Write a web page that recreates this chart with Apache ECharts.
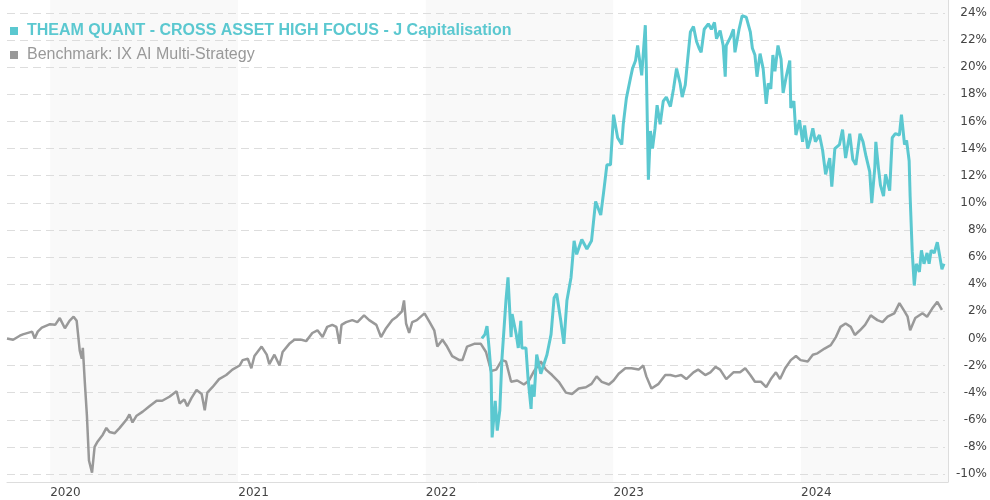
<!DOCTYPE html>
<html>
<head>
<meta charset="utf-8">
<script src="https://cdn.jsdelivr.net/npm/echarts@6/dist/echarts.min.js"></script>
<style>
  html, body { margin: 0; padding: 0; background: #fff; }
  #chart { width: 990px; height: 500px; }
</style>
</head>
<body>
<div id="chart"></div>
<script>
const fundName = "THEAM QUANT - CROSS ASSET HIGH FOCUS - J Capitalisation";
const benchName = "Benchmark: IX AI Multi-Strategy";

const xMin = "2019-10-09";
const xMax = "2024-10-13";

const benchDates = [
  "2019-10-09","2019-10-21","2019-11-03","2019-11-09","2019-11-27","2019-12-02","2019-12-08","2019-12-16",
  "2020-01-01","2020-01-11","2020-01-20","2020-01-30","2020-02-08","2020-02-16","2020-02-22","2020-02-28",
  "2020-03-03","2020-03-05","2020-03-09","2020-03-13","2020-03-17","2020-03-23","2020-03-28","2020-04-03",
  "2020-04-13","2020-04-20","2020-04-26","2020-05-06","2020-05-16","2020-05-29","2020-06-04","2020-06-10",
  "2020-06-18","2020-06-30","2020-07-13","2020-07-27","2020-08-07","2020-08-21","2020-09-04","2020-09-10",
  "2020-09-19","2020-09-25","2020-10-03","2020-10-13","2020-10-23","2020-10-29","2020-11-03","2020-11-13",
  "2020-11-26","2020-12-10","2020-12-22",
  "2021-01-05","2021-01-11","2021-01-21","2021-01-28","2021-02-03","2021-02-17","2021-02-27","2021-03-04",
  "2021-03-14","2021-03-24","2021-03-30","2021-04-12","2021-04-22","2021-05-06","2021-05-15","2021-05-27",
  "2021-06-06","2021-06-16","2021-06-25","2021-07-05","2021-07-13","2021-07-19","2021-07-23","2021-08-01",
  "2021-08-13","2021-08-23","2021-09-05","2021-09-15","2021-09-29","2021-10-08","2021-10-18","2021-10-30",
  "2021-11-08","2021-11-18","2021-11-22","2021-11-26","2021-12-02","2021-12-08","2021-12-17",
  "2022-01-01","2022-01-11","2022-01-20","2022-01-26","2022-02-05","2022-02-14","2022-02-24","2022-03-10",
  "2022-03-16","2022-03-25","2022-04-08","2022-04-21","2022-05-01","2022-05-11","2022-05-21","2022-06-01",
  "2022-06-09","2022-06-19","2022-07-01","2022-07-14","2022-07-24","2022-08-03","2022-08-16","2022-08-26",
  "2022-09-07","2022-09-20","2022-10-04","2022-10-16","2022-10-29","2022-11-12","2022-11-23","2022-12-03",
  "2022-12-13","2022-12-27",
  "2023-01-05","2023-01-15","2023-01-28","2023-02-09","2023-02-23","2023-03-04","2023-03-10","2023-03-20",
  "2023-04-03","2023-04-16","2023-04-26","2023-05-06","2023-05-17","2023-05-27","2023-06-10","2023-06-19",
  "2023-07-03","2023-07-13","2023-07-23","2023-08-01","2023-08-13","2023-08-27","2023-09-09","2023-09-19",
  "2023-09-29","2023-10-08","2023-10-20","2023-10-30","2023-11-08","2023-11-18","2023-11-26","2023-12-06",
  "2023-12-17","2023-12-27",
  "2024-01-05","2024-01-19","2024-01-29","2024-02-07","2024-02-21","2024-03-04","2024-03-14","2024-03-23",
  "2024-04-02","2024-04-12","2024-04-20","2024-04-30","2024-05-10","2024-05-21","2024-06-03","2024-06-13",
  "2024-06-23","2024-07-06","2024-07-16","2024-07-26","2024-08-01","2024-08-06","2024-08-16","2024-08-30",
  "2024-09-08","2024-09-18","2024-09-28","2024-10-07"
];
const benchValues = [
  0.0, -0.1, 0.2, 0.3, 0.5, 0.0, 0.5, 0.8,
  1.05, 1.0, 1.5, 0.75, 1.3, 1.6, 1.3, -0.9,
  -1.5, -0.7, -3.3, -5.7, -9.0, -9.9, -8.0, -7.6,
  -7.1, -6.6, -6.9, -7.0, -6.6, -6.0, -5.6, -6.2,
  -5.7, -5.4, -5.0, -4.6, -4.6, -4.3, -3.9, -4.8,
  -4.5, -5.0, -4.4, -3.8, -4.1, -5.3, -4.0, -3.6,
  -3.0, -2.7, -2.3,
  -2.0, -1.6, -1.5, -2.2, -1.3, -0.6, -1.2, -1.9,
  -1.2, -2.0, -1.0, -0.4, -0.1, -0.1, -0.2, 0.4,
  0.6, 0.1, 0.85, 1.0, 0.85, -0.4, 1.0, 1.2,
  1.35, 1.2, 1.7, 1.35, 1.0, 0.1, 0.75, 1.35,
  1.6, 2.0, 2.8, 1.1, 0.4, 1.2, 1.35,
  1.85, 1.2, 0.6, -0.6, -0.1, -0.6, -1.3, -1.6,
  -1.6, -0.6, -0.4, -0.4, -1.0, -2.4, -2.3, -1.6,
  -1.7, -3.2, -3.1, -3.4, -3.1, -2.4, -1.7, -2.3,
  -2.7, -3.2, -4.0, -4.1, -3.7, -3.6, -3.35, -2.8,
  -3.2, -3.4,
  -3.1, -2.6, -2.2, -2.2, -2.3, -2.0, -2.8, -3.7,
  -3.35, -2.7, -2.7, -2.8, -2.7, -3.0, -2.5, -2.3,
  -2.7, -2.5, -2.1, -2.3, -3.0, -2.5, -2.5, -2.2,
  -2.7, -3.2, -3.2, -3.6, -3.0, -2.5, -3.0, -2.2,
  -1.6, -1.3,
  -1.6, -1.7, -1.2, -1.1, -0.75, -0.5, 0.1, 0.85,
  1.1, 0.85, 0.25, 0.6, 1.0, 1.7, 1.35, 1.2,
  1.6, 1.85, 2.6, 2.0, 1.6, 0.6, 1.5, 1.85,
  1.6, 2.2, 2.7, 2.1
];

const fundDates = [
  "2022-04-23","2022-04-29","2022-05-03","2022-05-07","2022-05-11","2022-05-13","2022-05-19","2022-05-23",
  "2022-05-28","2022-06-01","2022-06-09","2022-06-13","2022-06-19","2022-06-21","2022-06-29","2022-07-03",
  "2022-07-08","2022-07-10","2022-07-18","2022-07-22","2022-07-28","2022-07-30","2022-08-03","2022-08-08",
  "2022-08-16","2022-08-22","2022-08-28","2022-09-05","2022-09-11","2022-09-16","2022-09-24","2022-09-30",
  "2022-10-06","2022-10-14","2022-10-20","2022-10-25","2022-11-04","2022-11-14","2022-11-23","2022-12-01",
  "2022-12-11","2022-12-17","2022-12-23","2022-12-30",
  "2023-01-05","2023-01-13","2023-01-21","2023-01-24","2023-01-30","2023-02-07","2023-02-11","2023-02-17",
  "2023-02-21","2023-03-01","2023-03-04","2023-03-08","2023-03-10","2023-03-14","2023-03-18","2023-03-22",
  "2023-03-27","2023-03-31","2023-04-06","2023-04-12","2023-04-18","2023-04-26","2023-05-02","2023-05-08",
  "2023-05-15","2023-05-19","2023-05-25","2023-05-29","2023-06-04","2023-06-10","2023-06-16","2023-06-21",
  "2023-06-25","2023-07-01","2023-07-09","2023-07-15","2023-07-21","2023-07-25","2023-08-01","2023-08-07",
  "2023-08-11","2023-08-13","2023-08-21","2023-08-27","2023-08-30","2023-09-07","2023-09-13","2023-09-21",
  "2023-09-29","2023-10-03","2023-10-08","2023-10-12","2023-10-18","2023-10-24","2023-10-30","2023-11-03",
  "2023-11-08","2023-11-12","2023-11-16","2023-11-22","2023-11-28","2023-12-02","2023-12-08","2023-12-15",
  "2023-12-17","2023-12-23","2023-12-27",
  "2024-01-03","2024-01-09","2024-01-13","2024-01-19","2024-01-25","2024-01-29","2024-02-03","2024-02-11",
  "2024-02-17","2024-02-23","2024-03-02","2024-03-06","2024-03-12","2024-03-21","2024-03-27","2024-04-02",
  "2024-04-10","2024-04-16","2024-04-22","2024-04-30","2024-05-06","2024-05-12","2024-05-19","2024-05-23",
  "2024-05-29","2024-05-31","2024-06-05","2024-06-09","2024-06-15","2024-06-19","2024-06-27","2024-07-02",
  "2024-07-08","2024-07-16","2024-07-20","2024-07-26","2024-07-30","2024-08-04","2024-08-06","2024-08-10",
  "2024-08-14","2024-08-18","2024-08-24","2024-08-28","2024-09-02","2024-09-08","2024-09-12","2024-09-16",
  "2024-09-22","2024-09-28","2024-10-03","2024-10-07","2024-10-11"
];
const fundValues = [
  0.0, 0.3, 0.9, -0.7, -2.6, -7.3, -4.6, -6.8,
  -5.3, -1.6, 2.8, 4.5, 0.1, 1.8, 0.3, -0.7,
  1.3, -0.7, -0.7, -2.9, -5.2, -3.4, -4.3, -1.2,
  -2.6, -1.9, -1.2, 0.3, 3.0, 3.3, 1.3, -0.4,
  2.8, 4.5, 7.2, 6.2, 7.3, 6.6, 7.2, 10.1,
  9.1, 10.9, 12.8, 12.8,
  16.5, 14.8, 14.3, 15.8, 17.7, 19.2, 19.9, 20.5,
  21.6, 19.4, 19.4, 23.1, 19.9, 11.7, 15.3, 14.0,
  15.5, 17.2, 15.8, 17.5, 17.8, 17.1, 18.4, 19.9,
  18.8, 17.8, 18.7, 20.3, 22.6, 23.0, 21.9, 21.4,
  21.1, 22.8, 23.2, 22.8, 23.3, 22.1, 22.7, 21.6,
  19.3, 21.6, 22.2, 22.8, 21.1, 22.8, 23.8, 23.7,
  22.6, 21.4, 20.9, 19.3, 21.0, 19.9, 17.3, 18.8,
  18.4, 20.9, 19.7, 21.6, 20.6, 18.1, 19.3, 20.5,
  17.0, 17.5, 15.0,
  16.1, 14.5, 15.7, 14.0, 14.8, 15.5, 14.5, 15.0,
  13.9, 12.1, 13.3, 11.2, 14.0, 14.3, 15.4, 13.3,
  15.1, 13.2, 12.8, 15.1, 14.5, 13.4, 12.3, 10.0,
  12.6, 14.5, 12.6, 11.3, 10.5, 12.1, 10.9, 14.8,
  15.1, 15.0, 16.5, 14.3, 14.6, 13.1, 10.4, 6.4,
  3.9, 5.5, 4.9, 6.5, 5.5, 6.3, 5.5, 6.5,
  6.3, 7.1, 6.0, 5.1, 5.5
];

const yTicksMin = -10;
const yTicksMax = 24;
const yTickStep = 2;

const chart = echarts.init(document.getElementById("chart"));

const option = {
  animation: false,
  backgroundColor: "#fff",
  legend: {
    orient: "vertical",
    left: 5,
    top: 18,
    itemGap: 8,
    itemWidth: 8,
    itemHeight: 8,
    icon: "rect",
    textStyle: {
      fontFamily: "Liberation Sans, Arial, sans-serif",
      fontSize: 16,
      padding: [0, 0, 0, 4],
    },
    data: [
      { name: fundName, textStyle: { color: "#5bc8d0", fontWeight: "bold" } },
      { name: benchName, textStyle: { color: "#999999" } },
    ],
  },
  grid: [
    { left: 7, right: 42, top: 0, bottom: 18 },
    { left: 7, right: 42, top: 13, bottom: 26 },
  ],
  xAxis: [
    {
      type: "time",
      gridIndex: 0,
      min: xMin,
      max: xMax,
      minInterval: 365 * 24 * 3600 * 1000,
      axisLine: { lineStyle: { color: "#dddddd" } },
      axisTick: { show: false },
      axisLabel: {
        formatter: "{yyyy}",
        align: "left",
        color: "#444",
        fontFamily: "DejaVu Sans, Verdana, sans-serif",
        fontSize: 12,
        margin: 5,
        showMinLabel: false,
        showMaxLabel: false,
      },
      splitLine: { show: false },
      splitArea: {
        show: true,
        areaStyle: { color: ["#ffffff", "#f9f9f9"] },
      },
    },
    {
      type: "time",
      gridIndex: 1,
      min: xMin,
      max: xMax,
      show: false,
    },
  ],
  yAxis: [
    {
      type: "value",
      gridIndex: 0,
      position: "right",
      min: 0,
      max: 1,
      axisLine: { show: true, lineStyle: { color: "#dddddd" } },
      axisTick: { show: false },
      axisLabel: { show: false },
      splitLine: { show: false },
    },
    {
      type: "value",
      gridIndex: 1,
      position: "right",
      z: 1,
      min: yTicksMin,
      max: yTicksMax,
      interval: yTickStep,
      axisLine: { show: false },
      axisTick: { show: false },
      axisLabel: {
        formatter: "{value}%",
        align: "right",
        margin: 42,
        color: "#444",
        fontFamily: "DejaVu Sans, Verdana, sans-serif",
        fontSize: 12,
      },
      splitLine: {
        lineStyle: { color: "#dddddd", type: [8, 5] },
      },
    },
  ],
  series: [
    {
      name: benchName,
      type: "line",
      xAxisIndex: 1,
      yAxisIndex: 1,
      showSymbol: false,
      color: "#999999",
      lineStyle: { width: 2.5, color: "#999999" },
      data: benchDates.map((d, i) => [d, benchValues[i]]),
    },
    {
      name: fundName,
      type: "line",
      xAxisIndex: 1,
      yAxisIndex: 1,
      showSymbol: false,
      color: "#5bc8d0",
      lineStyle: { width: 3, color: "#5bc8d0" },
      data: fundDates.map((d, i) => [d, fundValues[i]]),
    },
  ],
};

chart.setOption(option);
window.addEventListener("resize", () => chart.resize());
</script>
</body>
</html>
